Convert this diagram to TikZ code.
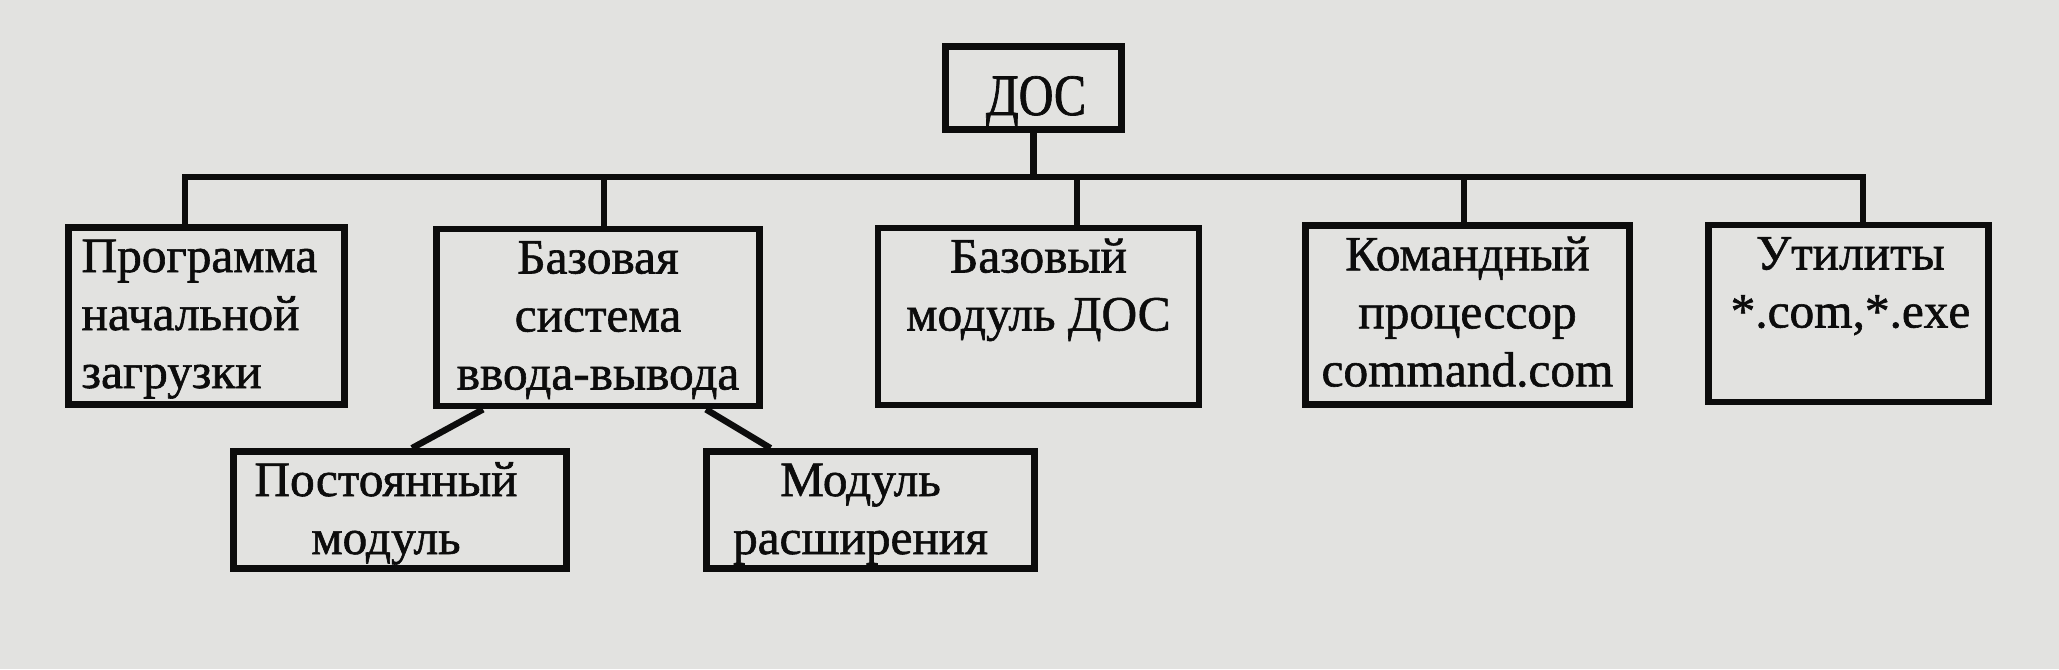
\documentclass[tikz,border=0pt]{standalone}
\usepackage{fontspec}
\setmainfont{Liberation Serif}[FakeBold=1.2]
\newfontfamily\docfont{Liberation Serif}[FakeStretch=0.82,FakeBold=1.2]
\usetikzlibrary{calc}
\definecolor{paper}{RGB}{226,226,224}
\definecolor{ink}{RGB}{12,12,12}
\begin{document}
\begin{tikzpicture}[x=0.75pt,y=-0.75pt,
  box/.style={draw=ink, line width=4.8pt, inner sep=0pt, rectangle},
  lbl/.style={inner sep=0pt, text=ink, font=\fontsize{37}{43.5}\selectfont},
  big/.style={inner sep=0pt, text=ink, font=\docfont\fontsize{44}{50}\selectfont},
  wire/.style={draw=ink, line width=4.8pt}]
\fill[paper] (0,0) rectangle (2059,669);
\useasboundingbox (0,0) rectangle (2059,669);
% boxes
\node[box, minimum width=132pt, minimum height=62pt] (doc) at (1033.5,88) {};
\node[box, minimum width=207pt, minimum height=133pt] (b1) at (206.5,316) {};
\node[box, minimum width=242pt, minimum height=133pt] (b2) at (598,317.5) {};
\node[box, minimum width=241pt, minimum height=133pt] (b3) at (1038.5,316.5) {};
\node[box, minimum width=243pt, minimum height=134pt] (b4) at (1467.5,315) {};
\node[box, minimum width=210pt, minimum height=133pt] (b5) at (1848.5,313.5) {};
\node[box, minimum width=250pt, minimum height=88pt] (p1) at (400,510) {};
\node[box, minimum width=246pt, minimum height=88pt] (p2) at (870.5,510) {};
% texts
\node[big, anchor=base] (tdoc) at (1036,115) {ДОС};
\node[lbl, anchor=north west, align=left] (t1) at ($(b1.north west)+(16,7)$) {\strut Программа\\\strut начальной\\\strut загрузки};
\node[lbl, anchor=north, align=center] (t2) at ($(b2.north)+(0,7)$) {\strut Базовая\\\strut система\\\strut ввода-вывода};
\node[lbl, anchor=north, align=center] (t3) at ($(b3.north)+(0,7)$) {\strut Базовый\\\strut модуль ДОС};
\node[lbl, anchor=north, align=center] (t4) at ($(b4.north)+(0,7)$) {\strut Командный\\\strut процессор\\\strut command.com};
\node[lbl, anchor=north, align=center] (t5) at ($(b5.north)+(2,7)$) {\strut Утилиты\\\strut *.com,*.exe};
\node[lbl, anchor=north, align=center] (t6) at ($(p1.north)+(-14,7)$) {\strut Постоянный\\\strut модуль};
\node[lbl, anchor=north, align=center] (t7) at ($(p2.north)+(-10,7)$) {\strut Модуль\\\strut расширения};
% bus
\coordinate (busL) at (185,177);
\coordinate (busR) at (1863,177);
\draw[wire, line cap=rect] (busL) -- (busR);
\draw[wire] (doc.south) -- (doc.south |- busL);
\draw[wire] (busL) -- (busL |- b1.north);
\draw[wire] ($(b2.north)+(6,0)$) -- ($(b2.north |- busL)+(6,0)$);
\draw[wire] ($(b3.north)+(38.5,0)$) -- ($(b3.north |- busL)+(38.5,0)$);
\draw[wire] ($(b4.north)+(-3.5,0)$) -- ($(b4.north |- busL)+(-3.5,0)$);
\draw[wire] (busR) -- (busR |- b5.north);
% sub-branches
\draw[wire] ($(b2.south)+(-115,0)$) -- ($(p1.north)+(12,0)$);
\draw[wire] ($(b2.south)+(108,0)$) -- ($(p2.north)+(-100,0)$);
\end{tikzpicture}
\end{document}
